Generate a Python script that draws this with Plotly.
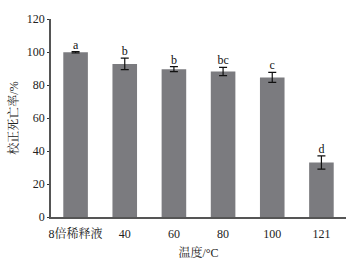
import plotly.graph_objects as go

categories = ["8倍稀释液", "40", "60", "80", "100", "121"]
values = [99.8, 92.8, 89.6, 88.2, 84.6, 33.0]
errors = [0.4, 3.5, 1.5, 2.5, 3.0, 4.0]
letters = ["a", "b", "b", "bc", "c", "d"]
y_ticks = [0, 20, 40, 60, 80, 100, 120]

FONT = "Liberation Serif, Times New Roman, Noto Serif CJK SC, Noto Sans CJK SC, serif"

label_y = [v + e for v, e in zip(values, errors)]

fig = go.Figure()
fig.add_trace(go.Bar(
    x=categories, y=values,
    marker=dict(color="#7b7b7f", line=dict(width=0)),
    width=0.5,
    error_y=dict(type="data", array=errors, visible=True, color="#111111",
                 thickness=1.2, width=4),
))
fig.add_trace(go.Scatter(
    x=categories, y=label_y, mode="text", text=letters,
    textposition="top center",
    textfont=dict(family=FONT, size=12, color="#111111"),
    cliponaxis=False, hoverinfo="skip",
))

fig.update_layout(
    width=358, height=260,
    margin=dict(l=51, r=12, t=19, b=43, autoexpand=False),
    plot_bgcolor="white", paper_bgcolor="white",
    font=dict(family=FONT, size=12, color="#222222"),
    showlegend=False,
    bargap=0.5,
)
fig.update_xaxes(
    type="category",
    showline=True, linecolor="#555555", linewidth=1.5,
    ticks="outside", ticklen=5, tickcolor="rgba(0,0,0,0)",
    tickfont=dict(size=12), automargin=False,
    title=dict(text="温度/°C", font=dict(size=12), standoff=14),
)
fig.update_yaxes(
    range=[0, 120], tickvals=y_ticks, showgrid=False, zeroline=False,
    showline=True, linecolor="#555555", linewidth=1.5,
    ticks="outside", ticklen=2, tickcolor="#333333",
    tickfont=dict(size=12), automargin=False,
    title=dict(text="校正死亡率/%", font=dict(size=12), standoff=6),
)

fig.write_html("out.html", config={"displayModeBar": False},
               post_script="document.body.style.margin='0';")
